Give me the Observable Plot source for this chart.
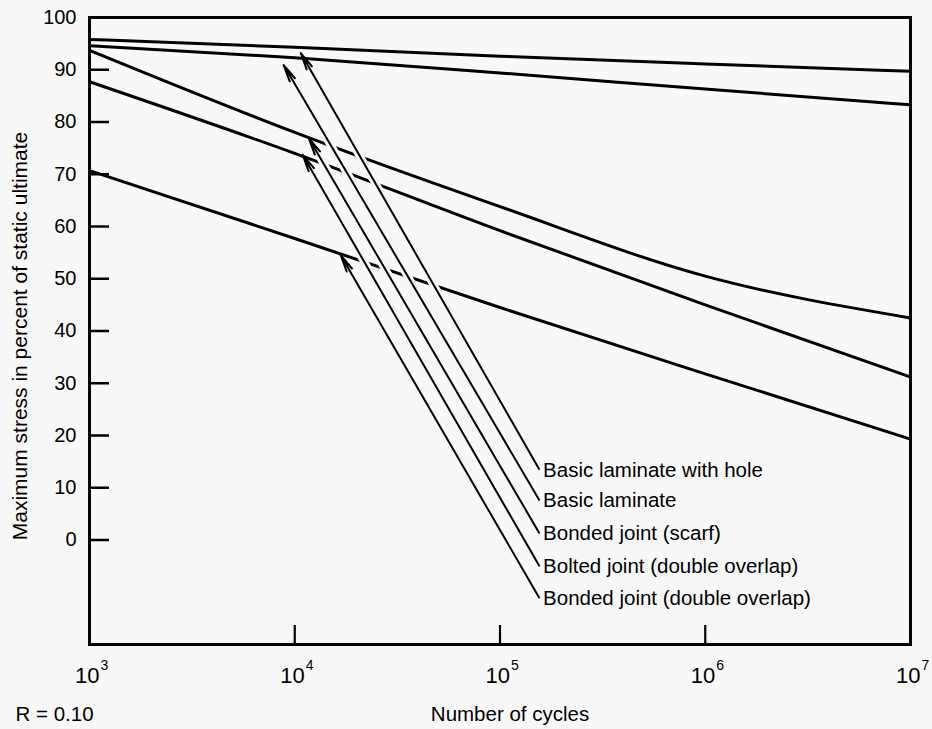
<!DOCTYPE html>
<html>
<head>
<meta charset="utf-8">
<script src="https://cdn.jsdelivr.net/npm/d3@7"></script>
<script src="https://cdn.jsdelivr.net/npm/@observablehq/plot@0.6"></script>
<style>
  html, body { margin: 0; padding: 0; background: #f8f8f8; }
  #chart svg { display: block; }
</style>
</head>
<body>
<div id="chart"></div>
<script>
// ---- data ----
const cycleGrid = [1e3, 1e4, 1e5, 1e6, 1e7];           // number of cycles
const curve1 = [95.8, 94.3, 92.6, 91.1, 89.7];          // % of static ultimate
const curve2 = [94.6, 92.3, 89.4, 86.3, 83.3];
const curve3 = [93.7, 78.0, 63.8, 50.5, 42.5];
const curve4 = [87.7, 74.0, 59.2, 45.0, 31.2];
const curve5 = [70.7, 57.7, 44.5, 31.8, 19.3];

const arrowLabels = [
  "Basic laminate with hole",
  "Basic laminate",
  "Bonded joint (scarf)",
  "Bolted joint (double overlap)",
  "Bonded joint (double overlap)"
];
const arrowTipCycles  = [1.07e4, 8.83e3, 1.17e4, 1.094e4, 1.675e4];
const arrowTipStress  = [93.2, 90.9, 76.9, 73.7, 54.5];
const arrowTailCycles = [1.55e5, 1.55e5, 1.55e5, 1.55e5, 1.55e5];
const arrowTailStress = [13.6, 7.7, 1.4, -4.9, -11.0];

const yTickValues = [0, 10, 20, 30, 40, 50, 60, 70, 80, 90, 100];
const yInnerTicks = [0, 10, 20, 30, 40, 50, 60, 70, 80, 90];
const xTickValues = [1e3, 1e4, 1e5, 1e6, 1e7];
const xTickExponents = ["3", "4", "5", "6", "7"];
const xInnerTicks = [1e4, 1e5, 1e6];

// ---- tables built from the arrays ----
const curveRows = [curve1, curve2, curve3, curve4, curve5].flatMap((vals, i) =>
  vals.map((v, j) => ({series: i, cycles: cycleGrid[j], stress: v})));
const arrows = arrowLabels.map((label, i) => ({
  label,
  x1: arrowTailCycles[i], y1: arrowTailStress[i],
  x2: arrowTipCycles[i], y2: arrowTipStress[i]
}));
const xLabels = xTickValues.map((v, i) => ({v, e: xTickExponents[i]}));

const W = 932, H = 729;
const mL = 89, mR = 22, mT = 17, mB = 85;
const plotW = W - mL - mR, plotH = H - mT - mB;
const bg = "#f8f8f8";
const font = "'Liberation Sans', Arial, Helvetica, sans-serif";

const chart = Plot.plot({
  width: W,
  height: H,
  marginLeft: mL, marginRight: mR, marginTop: mT, marginBottom: mB,
  style: {background: bg, fontFamily: font, color: "#000", overflow: "visible"},
  x: {type: "log", domain: [1e3, 1e7], axis: null},
  y: {domain: [-20, 100], axis: null},
  marks: [
    // curves
    Plot.line(curveRows, {x: "cycles", y: "stress", z: "series", stroke: "#000",
      strokeWidth: 3, curve: "monotone-x"}),
    // white gaps where arrows cross curves
    Plot.arrow(arrows, {x1: "x1", y1: "y1", x2: "x2", y2: "y2", bend: 0,
      headLength: 0, stroke: bg, strokeWidth: 8, insetEnd: 14}),
    // arrows
    Plot.arrow(arrows, {x1: "x1", y1: "y1", x2: "x2", y2: "y2", bend: 0,
      headLength: 13, headAngle: 20, stroke: "#000", strokeWidth: 2}),
    // arrow labels
    Plot.text(arrows, {x: "x1", y: "y1", text: "label", textAnchor: "start",
      dx: 4, dy: 1, fontSize: 20.5, fill: "#000"}),
    // inward ticks
    Plot.tickY(yInnerTicks, {y: d => d, insetRight: plotW - 20, stroke: "#000", strokeWidth: 2.5}),
    Plot.tickX(xInnerTicks, {x: d => d, insetTop: plotH - 19, stroke: "#000", strokeWidth: 2.2}),
    // frame
    Plot.frame({stroke: "#000", strokeWidth: 3}),
    // y tick labels
    Plot.text(yTickValues, {y: d => d, frameAnchor: "left", text: d => String(d),
      textAnchor: "end", dx: -13, fontSize: 20, fill: "#000"}),
    // x tick labels: base and exponent
    Plot.text(xLabels, {x: "v", frameAnchor: "bottom", text: () => "10", textAnchor: "end",
      lineAnchor: "bottom", dx: 10, dy: 38, fontSize: 22, fill: "#000"}),
    Plot.text(xLabels, {x: "v", frameAnchor: "bottom", text: "e", textAnchor: "start",
      lineAnchor: "bottom", dx: 11, dy: 25, fontSize: 14, fill: "#000"}),
    // axis titles
    Plot.text(["Maximum stress in percent of static ultimate"], {frameAnchor: "left",
      text: d => d, rotate: -90, textAnchor: "middle", dx: -69, dy: 5, fontSize: 21, fill: "#000"}),
    Plot.text(["Number of cycles"], {frameAnchor: "bottom", text: d => d,
      lineAnchor: "bottom", dx: 10, dy: 76, fontSize: 20.5, fill: "#000"}),
    Plot.text(["R = 0.10"], {frameAnchor: "bottom-left", text: d => d, textAnchor: "start",
      lineAnchor: "bottom", dx: -74, dy: 76, fontSize: 20.5, fill: "#000"})
  ]
});
document.getElementById("chart").append(chart);
</script>
</body>
</html>
